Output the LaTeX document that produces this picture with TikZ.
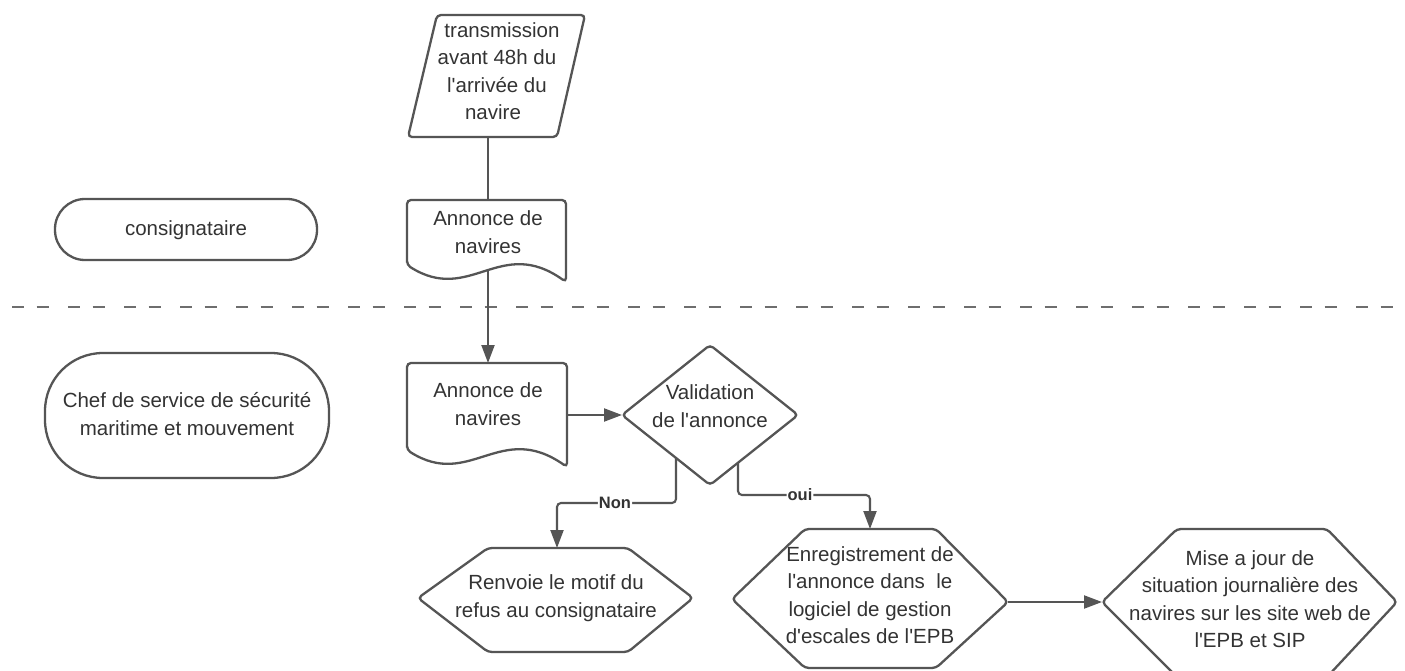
\documentclass[tikz,border=0pt]{standalone}
\usepackage{fontspec}
\setmainfont{Liberation Sans}[Ligatures=TeXOff]
\usetikzlibrary{arrows.meta}
\definecolor{ln}{HTML}{555555}
\definecolor{tx}{HTML}{333333}
\begin{document}
\begin{tikzpicture}[x=1pt,y=-1pt,
  shp/.style={draw=ln, line width=2.3pt, rounded corners=4pt, fill=white},
  txt/.style={text=tx, font=\fontsize{20.5}{27.5}\selectfont, align=center, inner sep=0pt},
  conn/.style={draw=ln, line width=2.1pt, rounded corners=4pt},
  arr/.style={conn, -{Triangle[length=18pt,width=13pt]}},
  lab/.style={font=\bfseries\fontsize{16.5}{16.5}\selectfont, text=tx, fill=white, inner sep=1pt},
  sep/.style={draw=ln!85, line width=2pt, dash pattern=on 12pt off 12.5pt on 12pt off 19.5pt}]
\useasboundingbox (0,0) rectangle (1405,671);
\fill[white] (0,0) rectangle (1405,671);

% separator
\coordinate (sepL) at (12,307);
\coordinate (sepR) at (1400,307);
\draw[sep] (sepL) -- (sepR);

% lanes
\draw[shp, rounded corners=30pt] (55,199) rectangle (317,260);
\node[txt] (lane1) at (186,230) {consignataire};
\draw[shp, rounded corners=58pt] (45,353) rectangle (329,478);
\node[txt] (lane2) at (187,414) {Chef de service de sécurité\\maritime et mouvement};

% parallelogram
\draw[shp] (437,15) -- (585,15) -- (557,137) -- (408,137) -- cycle;
\node[txt] (trans) at (497,71) {\hspace*{10pt}transmission\\avant 48h du\\l'arrivée du\\navire\hspace*{8pt}};
\coordinate (transB) at (488,137);

% document 1
\draw[shp] (407,265) -- (407,200) -- (566,200) -- (566,282)
  .. controls (500,235) and (470,305) .. (407,265) -- cycle;
\node[txt] (doc1) at (488,232) {Annonce de\\navires};
\coordinate (doc1T) at (488,200);
\coordinate (doc1B) at (488,270);

% document 2
\draw[shp] (407,450) -- (407,363) -- (567,363) -- (567,467)
  .. controls (500,420) and (470,490) .. (407,450) -- cycle;
\node[txt] (doc2) at (488,404) {Annonce de\\navires};
\coordinate (doc2T) at (488,363);
\coordinate (doc2R) at (567,415);

% diamond
\draw[shp] (622,415) -- (710,345) -- (798,415) -- (710,485) -- cycle;
\node[txt] (valid) at (710,406) {Validation\\de l'annonce};
\coordinate (diaL) at (622,415);
\coordinate (diaN) at (676,458);
\coordinate (diaO) at (738,463);

% hexagon 1
\draw[shp] (418,598) -- (488,548) -- (628,548) -- (693,598) -- (628,652) -- (488,652) -- cycle;
\node[txt] (renv) at (556,598) {Renvoie le motif du\\refus au consignataire};
\coordinate (hex1T) at (557,548);

% hexagon 2
\draw[shp] (732,599) -- (805,529) -- (936,529) -- (1008,602) -- (936,668) -- (805,668) -- cycle;
\node[txt] (enreg) at (870,595) {Enregistrement de\\l'annonce dans\ \ le\\logiciel de gestion\\d'escales de l'EPB};
\coordinate (hex2T) at (870,529);
\coordinate (hex2R) at (1008,602);

% hexagon 3
\draw[shp] (1102,602) -- (1177,529) -- (1327,529) -- (1397,602) -- (1327,677) -- (1177,677) -- cycle;
\node[txt] (mise) at (1250,599) {Mise a jour de\\situation journalière des\\navires sur les site web de\\l'EPB et SIP};
\coordinate (hex3L) at (1102,602);

% connectors
\draw[conn] (transB) -- (doc1T);
\draw[arr] (doc1B) -- (doc2T);
\draw[arr] (doc2R) -- (diaL);
\draw[arr] (diaN) |- (615,503) node[lab] (non) {Non} -| (hex1T);
\draw[arr] (diaO) |- (800,495) node[lab] (oui) {oui} -| (hex2T);
\draw[arr] (hex2R) -- (hex3L);
\end{tikzpicture}
\end{document}
